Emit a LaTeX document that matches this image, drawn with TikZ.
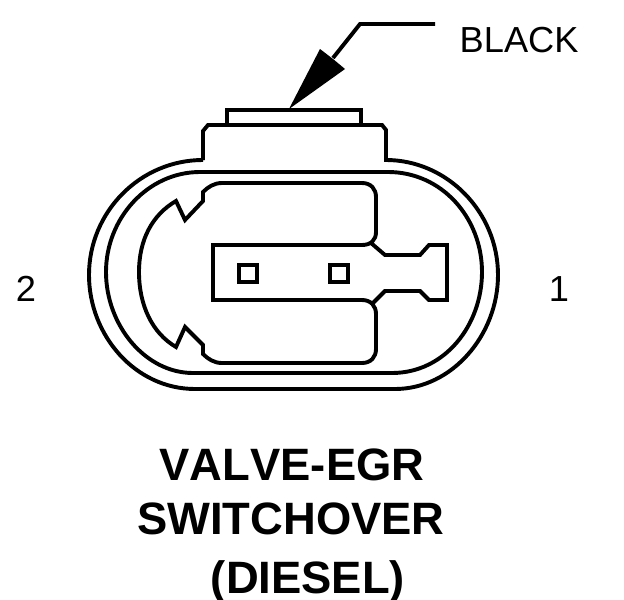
\documentclass[tikz,border=0pt]{standalone}
\usepackage{fontspec}
\setmainfont{Liberation Sans}
\tikzset{
  shellline/.style={line width=0.039cm,line join=miter},
  labeltext/.style={inner sep=0pt,font=\fontsize{10.3}{12}\selectfont},
  titletext/.style={inner sep=0pt,font=\fontsize{12.9}{15}\selectfont\bfseries}
}
\begin{document}
\begin{tikzpicture}[x=0.01cm,y=-0.01cm]
\useasboundingbox (0,0) rectangle (624,600);
% outer housing
\draw[shellline] (203,160) -- (203,131) -- (208,125) -- (382,125) -- (386,130) -- (386,160)
  .. controls (447,160) and (498,212) .. (498,275)
  .. controls (498,335) and (452,389) .. (395,389) -- (195,389)
  .. controls (135,389) and (89,335) .. (89,275)
  .. controls (89,212) and (140,160) .. (203,160);
\draw[shellline] (227,125) -- (227,110) -- (361,110) -- (361,125);
% inner shell
\draw[shellline] (200,172) -- (388,172)
  .. controls (442,172) and (482,218) .. (482,272)
  .. controls (482,325) and (445,373) .. (392,373) -- (193,373)
  .. controls (145,373) and (106,325) .. (106,272)
  .. controls (106,218) and (148,172) .. (200,172);
% cavity
\draw[shellline] (176,201) -- (185,220) -- (203,201) -- (203,192)
  .. controls (208,187) and (214,183) .. (222,183) -- (362,183)
  .. controls (371,183) and (376,189) .. (376,197) -- (376,232)
  .. controls (376,240) and (371,245) .. (362,245) -- (213,245) -- (213,300) -- (362,300)
  .. controls (371,300) and (376,306) .. (376,314) -- (376,349)
  .. controls (376,357) and (371,363) .. (362,363) -- (222,363)
  .. controls (214,363) and (208,359) .. (203,354) -- (203,345) -- (185,327) -- (176,347)
  .. controls (152,333) and (139,305) .. (139,272)
  .. controls (139,240) and (152,215) .. (176,201) -- cycle;
% terminal
\draw[shellline] (371,243) -- (385,255) -- (420,255) -- (429,245) -- (447,245)
  -- (447,300) -- (429,300) -- (420,291) -- (385,291) -- (371,305);
\foreach \x in {239,330} {
  \draw[shellline] (\x,265) rectangle ++(18,17);
}
% leader
\coordinate (leaderend) at (435,24);
\coordinate (leaderbend) at (360,24);
\coordinate (leadertip) at (333,58);
\draw[shellline] (leaderend) -- (leaderbend) -- (leadertip);
\fill (289,109) -- (320,49) -- (333,59) -- (345,69) -- cycle;
\node[labeltext,anchor=base west] (colorlabel) at (459,52) {BLACK};
\node[labeltext] (pintwo) at (26,289) {2};
\node[labeltext] (pinone) at (559,289) {1};
\node[titletext] (titleone) at (292,465) {\addfontfeature{Kerning=Off}VALVE-EGR};
\node[titletext] (titletwo) at (291,519) {SWITCHOVER};
\node[titletext] (titlethree) at (308,582) {(DIESEL)};
\end{tikzpicture}
\end{document}
